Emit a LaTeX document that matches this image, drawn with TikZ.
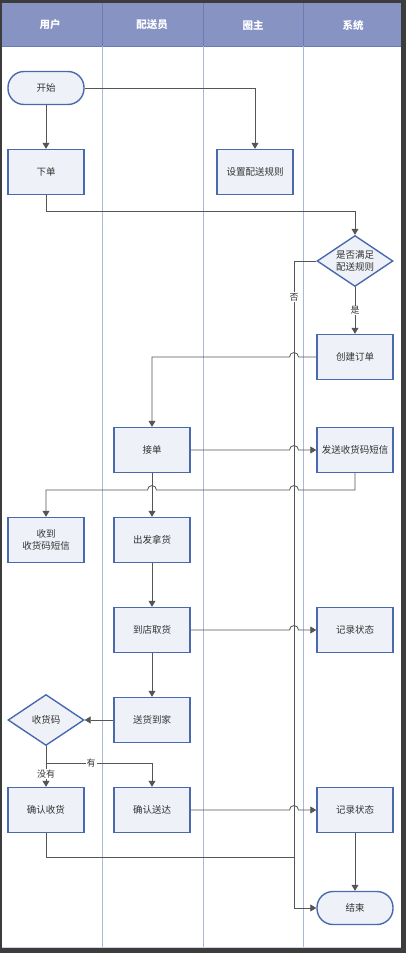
\documentclass[tikz,border=0pt]{standalone}
\usepackage{fontspec}
\newfontfamily\cjk{Noto Sans CJK SC}
\usetikzlibrary{shapes.geometric,arrows.meta,calc}
\definecolor{frame}{HTML}{3C3C3C}
\definecolor{head}{HTML}{8793C3}
\definecolor{headline}{HTML}{6B7BB3}
\definecolor{lane}{HTML}{AAB6DA}
\definecolor{boxfill}{HTML}{EEF1F7}
\definecolor{boxline}{HTML}{4A6AB0}
\definecolor{wire}{HTML}{555555}
\definecolor{txt}{HTML}{333333}
\begin{document}
\begin{tikzpicture}[x=1pt,y=-1pt,
  base/.style={draw=boxline,fill=boxfill,line width=1.4pt,inner sep=0pt,text=txt,
    font=\cjk\fontsize{9.5}{12}\selectfont,align=center},
  proc/.style={base,rectangle,minimum width=76pt,minimum height=45pt},
  term/.style={base,rectangle,rounded corners=16pt,minimum width=76pt,minimum height=33pt},
  dec/.style={base,diamond,aspect=1.5,minimum width=76pt,minimum height=51pt},
  wire/.style={draw=wire,line width=0.8pt},
  arr/.style={wire,-{Triangle[length=6pt,width=7pt]}},
  lbl/.style={fill=white,inner sep=1pt,text=txt,font=\cjk\fontsize{9}{11}\selectfont},
  headtxt/.style={text=white,font=\cjk\bfseries\fontsize{10.5}{12}\selectfont},
  lanel/.style={draw=lane,line width=0.8pt}]
\useasboundingbox (0,0) rectangle (406,953);
\fill[frame] (0,0) rectangle (406,953);
\fill[white] (2,3) rectangle (401,947);
\fill[head] (2,3) rectangle (401,46);
\draw[draw=headline,line width=0.8pt] (2,46) -- (401,46);
\foreach \x in {102,203,303}{
  \draw[draw=headline,line width=0.8pt] (\x,3) -- (\x,46);
  \draw[lanel] (\x,46) -- (\x,947);
}
\draw[draw=lane!60!white,line width=1pt] (2,947) -- (401,947);
\node[headtxt] (h1) at (50,25) {用户};
\node[headtxt] (h2) at (152,25) {配送员};
\node[headtxt] (h3) at (253,25) {圈主};
\node[headtxt] (h4) at (353,25) {系统};

% nodes
\node[term] (start) at (46,88) {开始};
\node[proc] (order) at (46,172) {下单};
\node[proc] (rule) at (255,172) {设置配送规则};
\node[dec] (d1) at (355,261) {是否满足\\配送规则};
\node[proc] (create) at (355,357) {创建订单};
\node[proc] (accept) at (152,450) {接单};
\node[proc] (sms) at (355,450) {发送收货码短信};
\node[proc] (recv) at (46,540) {收到\\收货码短信};
\node[proc] (go) at (152,540) {出发拿货};
\node[proc] (pick) at (152,630) {到店取货};
\node[proc] (rec1) at (355,630) {记录状态};
\node[proc] (deliver) at (152,720) {送货到家};
\node[dec] (code) at (46,720) {收货码};
\node[proc] (ok) at (46,810) {确认收货};
\node[proc] (confirm) at (152,810) {确认送达};
\node[proc] (rec2) at (355,810) {记录状态};
\node[term] (end) at (355,908) {结束};

\coordinate (nov) at (294,261);

% connectors
\draw[arr] (start) -- (order);
\draw[arr] (start.east) -| (rule.north);
\draw[arr] (order.south) -- (order.south |- 0,211) -| (d1.north);
\draw[arr] (d1.west) -- (nov) |- (end.west);
\node[lbl] (no) at (294,297) {否};
\draw[arr] (d1.south) -- node[lbl] (yes) {是} (create.north);
\draw[arr] (create.west) -- ([xshift=4.5pt]nov |- create.west)
  arc[start angle=0,end angle=180,radius=4.5pt]
  -- (accept.north |- create.west) -- (accept.north);
\draw[arr] (accept.east) -- ([xshift=-4.5pt]nov |- accept.east)
  arc[start angle=180,end angle=0,radius=4.5pt] -- (sms.west);
\draw[arr] (sms.south) -- (sms.south |- 0,490)
  -- ([xshift=4.5pt]nov |- 0,490) arc[start angle=0,end angle=180,radius=4.5pt]
  -- ([xshift=4.5pt]accept.south |- 0,490) arc[start angle=0,end angle=180,radius=4.5pt]
  -- (recv.north |- 0,490) -- (recv.north);
\draw[arr] (accept.south) -- (go.north);
\draw[arr] (go.south) -- (pick.north);
\draw[arr] (pick.east) -- ([xshift=-4.5pt]nov |- pick.east)
  arc[start angle=180,end angle=0,radius=4.5pt] -- (rec1.west);
\draw[arr] (pick.south) -- (deliver.north);
\draw[arr] (deliver.west) -- (code.east);
\draw[arr] (code.south) -- (code.south |- 0,763) -| (confirm.north);
\node[lbl] (have) at (91,763) {有};
\draw[arr] (code.south) -- (ok.north);
\node[lbl] (nohave) at (46,774) {没有};
\draw[arr] (confirm.east) -- ([xshift=-4.5pt]nov |- confirm.east)
  arc[start angle=180,end angle=0,radius=4.5pt] -- (rec2.west);
\draw[arr] (rec2.south) -- (end.north);
\draw[wire] (ok.south) -- (ok.south |- 0,857) -- (nov |- 0,857);
\end{tikzpicture}
\end{document}
